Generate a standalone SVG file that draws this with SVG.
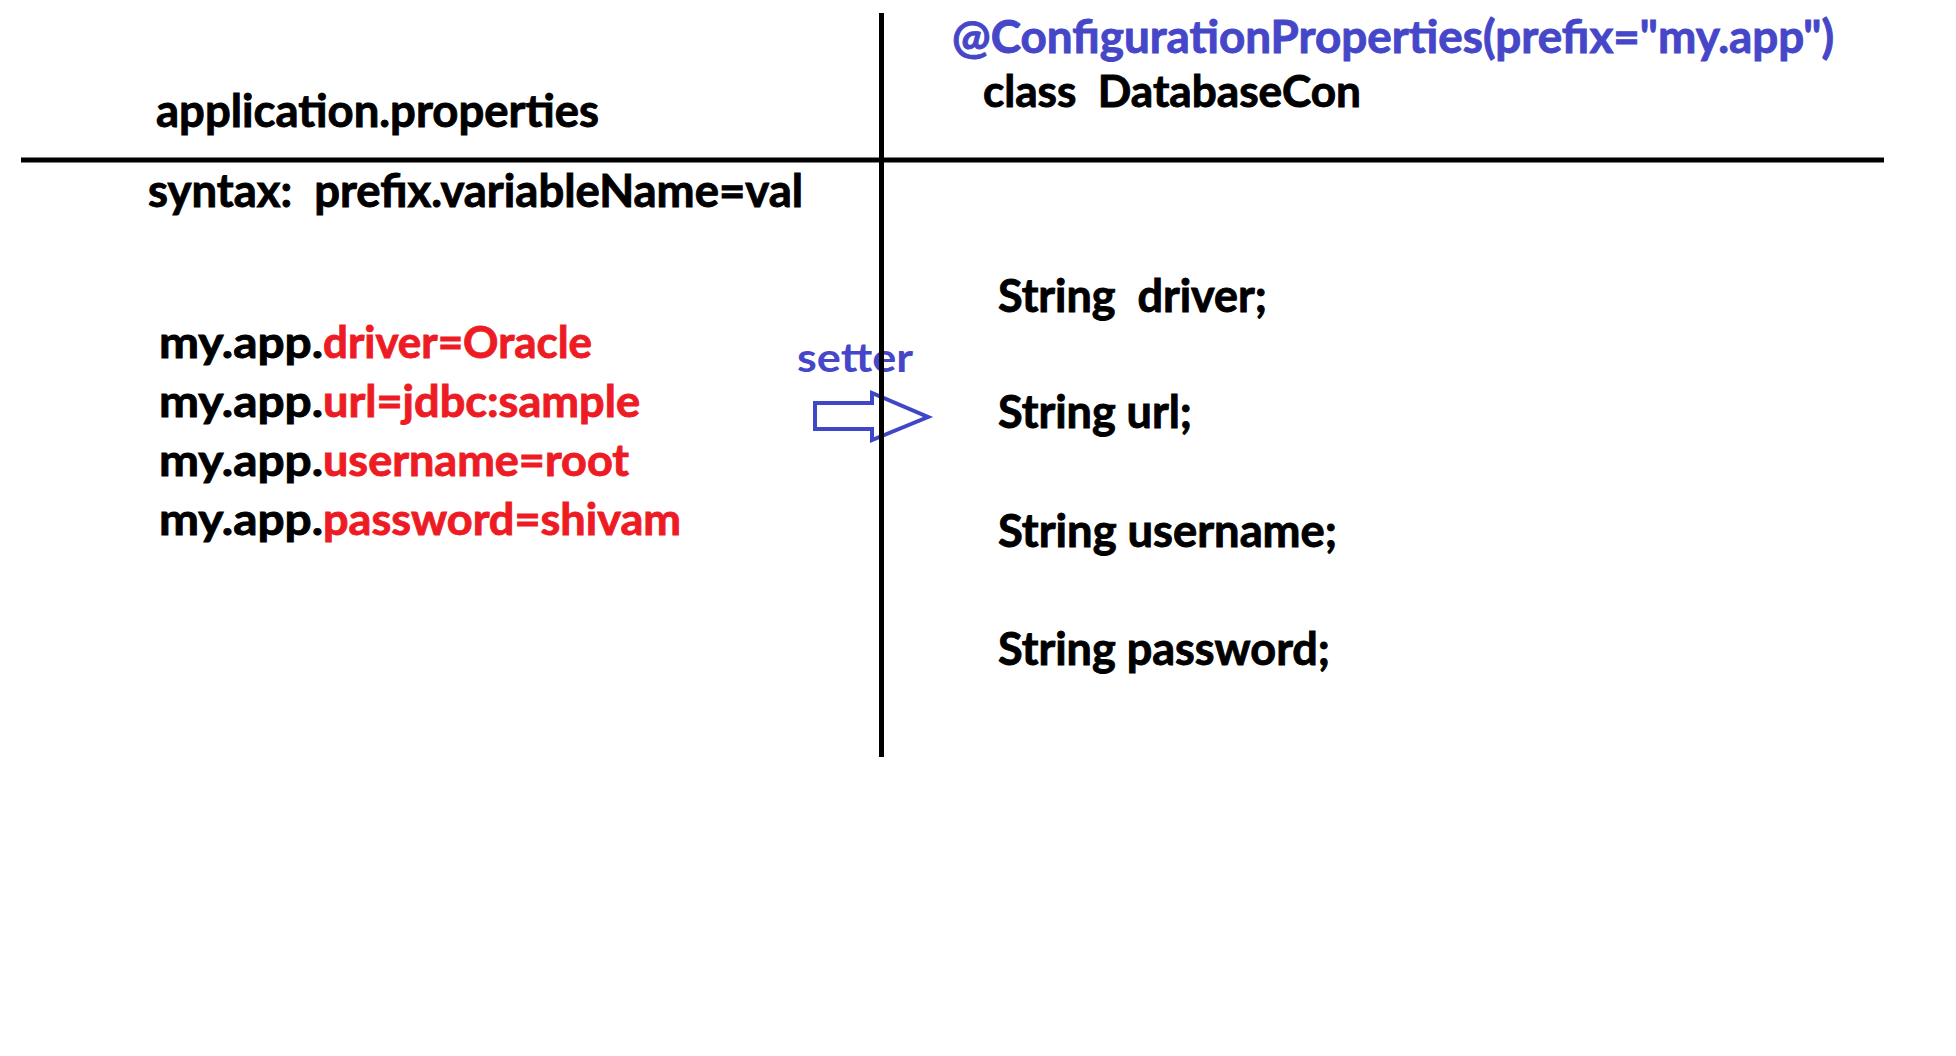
<svg xmlns="http://www.w3.org/2000/svg" width="1956" height="1056" viewBox="0 0 1956 1056">
<style>
text{font-family:Lato,"Open Sans","Liberation Sans",sans-serif;font-weight:bold;white-space:pre;fill:#000;stroke:#000;stroke-width:0.9}
.blue{fill:#4646C8;stroke:#4646C8}
.red{fill:#ED1C24;stroke:#ED1C24}
.reg{font-weight:bold;stroke-width:0}
.div{stroke:#000;stroke-width:5;fill:none}
.arrow{stroke:#3F46C8;stroke-width:4;fill:#fff;stroke-linejoin:miter}
</style>
<rect x="0" y="0" width="1956" height="1056" fill="#fff"/>
<g id="properties-header">
<text x="156" y="127" font-size="46" textLength="443" lengthAdjust="spacingAndGlyphs">application.properties</text>
</g>
<g id="syntax">
<text x="148" y="207" font-size="45" textLength="655" lengthAdjust="spacingAndGlyphs">syntax:  prefix.variableName=val</text>
</g>
<g id="properties-list">
<text x="159" y="358" font-size="43" textLength="164" lengthAdjust="spacingAndGlyphs">my.app.</text>
<text class="red" x="323" y="358" font-size="43" textLength="269" lengthAdjust="spacingAndGlyphs">driver=Oracle</text>
<text x="159" y="417" font-size="43" textLength="164" lengthAdjust="spacingAndGlyphs">my.app.</text>
<text class="red" x="323" y="417" font-size="43" textLength="317" lengthAdjust="spacingAndGlyphs">url=jdbc:sample</text>
<text x="159" y="476" font-size="43" textLength="164" lengthAdjust="spacingAndGlyphs">my.app.</text>
<text class="red" x="323" y="476" font-size="43" textLength="306" lengthAdjust="spacingAndGlyphs">username=root</text>
<text x="159" y="535" font-size="43" textLength="164" lengthAdjust="spacingAndGlyphs">my.app.</text>
<text class="red" x="323" y="535" font-size="43" textLength="358" lengthAdjust="spacingAndGlyphs">password=shivam</text>
</g>
<g id="class-header">
<text class="blue" x="952" y="53" font-size="45" textLength="882" lengthAdjust="spacingAndGlyphs">@ConfigurationProperties(prefix="my.app")</text>
<text x="983" y="107" font-size="44" textLength="378" lengthAdjust="spacingAndGlyphs">class  DatabaseCon</text>
</g>
<g id="class-fields">
<text x="998" y="312" font-size="45" textLength="269" lengthAdjust="spacingAndGlyphs">String  driver;</text>
<text x="998" y="428" font-size="45" textLength="194" lengthAdjust="spacingAndGlyphs">String url;</text>
<text x="998" y="547" font-size="45" textLength="339" lengthAdjust="spacingAndGlyphs">String username;</text>
<text x="998" y="665" font-size="45" textLength="332" lengthAdjust="spacingAndGlyphs">String password;</text>
</g>
<g id="setter-label">
<text class="blue reg" x="797" y="372" font-size="41" textLength="116" lengthAdjust="spacingAndGlyphs">setter</text>
</g>
<g id="connectors">
<path class="arrow" d="M815,403 L872,403 L872,393 L928,417 L872,440 L872,429 L815,429 Z"/>
</g>
<g id="dividers">
<line class="div" x1="21" y1="160" x2="1884" y2="160"/>
<line class="div" x1="881.5" y1="13" x2="881.5" y2="757"/>
</g>
</svg>
